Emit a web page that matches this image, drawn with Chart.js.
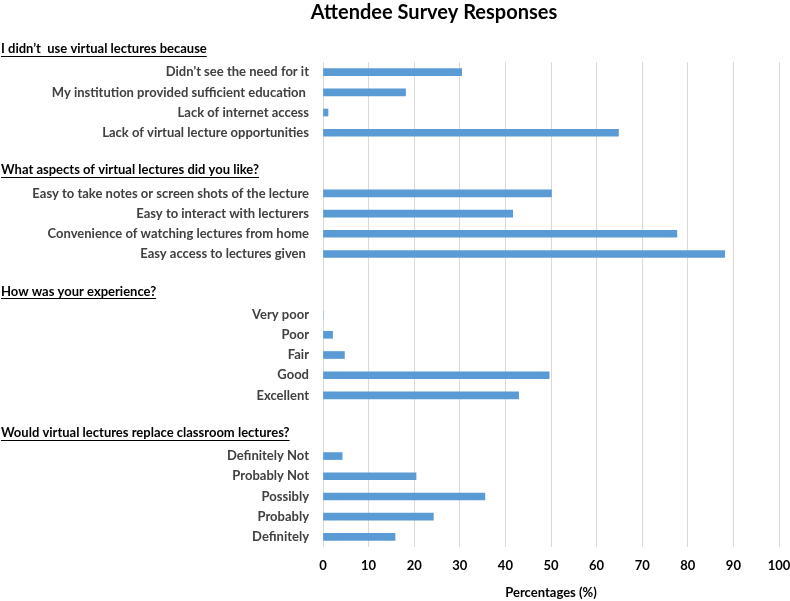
<!DOCTYPE html>
<html>
<head>
<meta charset="utf-8">
<script src="https://cdn.jsdelivr.net/npm/chart.js@4/dist/chart.umd.min.js"></script>
<style>
  body { margin: 0; background: #fff; }
  #wrap { width: 790px; height: 601px; }
</style>
</head>
<body>
<div id="wrap"><canvas id="surveyChart"></canvas></div>
<script>
const TITLE = 'Attendee Survey Responses';
const X_TITLE = 'Percentages (%)';

// one row per bar, blank rows leave room for the section titles
const categories = [
  "Didn't see the need for it",
  'My institution provided sufficient education ',
  'Lack of internet access',
  'Lack of virtual lecture opportunities',
  '',
  '',
  'Easy to take notes or screen shots of the lecture',
  'Easy to interact with lecturers',
  'Convenience of watching lectures from home',
  'Easy access to lectures given ',
  '',
  '',
  'Very poor',
  'Poor',
  'Fair',
  'Good',
  'Excellent',
  '',
  '',
  'Definitely Not',
  'Probably Not',
  'Possibly',
  'Probably',
  'Definitely'
];

const percentages = [
  30.4, 18.1, 1.1, 64.8,
  null, null,
  50.1, 41.6, 77.6, 88.1,
  null, null,
  0, 2.1, 4.7, 49.6, 42.9,
  null, null,
  4.2, 20.4, 35.5, 24.2, 15.8
];

const sectionTitles = [
  'I didn\u2019t  use virtual lectures because',
  'What aspects of virtual lectures did you like?',
  'How was your experience?',
  'Would virtual lectures replace classroom lectures?'
];
// category row each section title sits on (-1 = just above the first row)
const sectionRows = [-1, 5, 11, 18];

const xTicks = [0, 10, 20, 30, 40, 50, 60, 70, 80, 90, 100];

const FONT = 'Lato, "Liberation Sans", sans-serif';

const headerPlugin = {
  id: 'headers',
  afterDraw(chart) {
    const ctx = chart.ctx;
    const yScale = chart.scales.y;
    ctx.save();
    // chart title
    ctx.font = 'bold 20px ' + FONT;
    ctx.fillStyle = '#000';
    ctx.textAlign = 'center';
    ctx.textBaseline = 'middle';
    ctx.fillText(TITLE, 434, 13);

    // section titles, underlined
    ctx.font = 'bold 13px ' + FONT;
    ctx.textAlign = 'left';
    ctx.strokeStyle = '#000';
    ctx.lineWidth = 1;
    sectionTitles.forEach((t, i) => {
      const y = yScale.getPixelForValue(sectionRows[i]) - 3;
      ctx.fillText(t, 1, y);
      const w = ctx.measureText(t).width;
      ctx.beginPath();
      ctx.moveTo(1, Math.round(y + 7) + 0.5);
      ctx.lineTo(1 + w, Math.round(y + 7) + 0.5);
      ctx.stroke();
    });
    ctx.restore();
  }
};

const ctx = document.getElementById('surveyChart').getContext('2d');

new Chart(ctx, {
  type: 'bar',
  data: {
    labels: categories,
    datasets: [{
      data: percentages,
      backgroundColor: '#5B9BD5',
      barThickness: 7
    }]
  },
  options: {
    indexAxis: 'y',
    responsive: true,
    maintainAspectRatio: false,
    animation: false,
    layout: { padding: { top: 62, right: 11, left: 0, bottom: 0 } },
    plugins: {
      legend: { display: false },
      tooltip: { enabled: false }
    },
    scales: {
      x: {
        min: 0,
        max: 100,
        afterBuildTicks(scale) {
          scale.ticks = xTicks.map(v => ({ value: v }));
        },
        afterFit(scale) {
          scale.height = 54;
          scale.paddingLeft = 0;
          scale.paddingRight = 0;
        },
        grid: { color: '#d9d9d9', drawTicks: false },
        border: { display: false },
        ticks: {
          padding: 11,
          color: '#000',
          font: { family: FONT, size: 13, weight: 'bold' }
        },
        title: {
          display: true,
          text: X_TITLE,
          color: '#000',
          padding: { top: 10, bottom: 0 },
          font: { family: FONT, size: 13, weight: 'bold' }
        }
      },
      y: {
        afterFit(scale) { scale.width = 323; },
        grid: { display: false, drawTicks: false },
        border: { display: false },
        ticks: {
          autoSkip: false,
          padding: 14,
          color: '#404040',
          font: { family: FONT, size: 13, weight: 'bold' }
        }
      }
    }
  },
  plugins: [headerPlugin]
});
</script>
</body>
</html>
